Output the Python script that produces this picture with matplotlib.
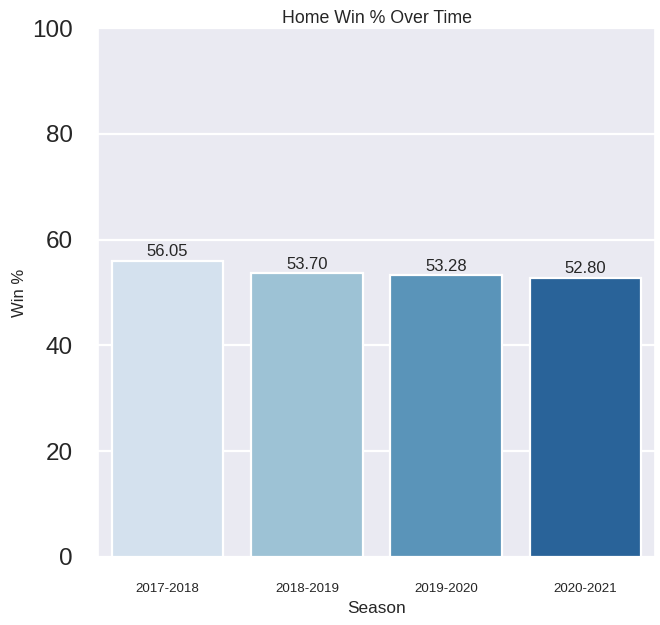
import matplotlib
matplotlib.use("Agg")
import matplotlib.pyplot as plt
import seaborn as sns

# values
seasons = ["2017-2018", "2018-2019", "2019-2020", "2020-2021"]
home_win_pct = [56.05, 53.70, 53.28, 52.80]

sns.set_theme(style="darkgrid")
plt.rcParams['font.family'] = ['Arial', 'Liberation Sans', 'DejaVu Sans']

fig = plt.figure(figsize=(6.6, 6.25), dpi=100)
ax = fig.add_axes([0.1485, 0.109, 0.844, 0.846])

colors = sns.color_palette("Blues", len(seasons))
sns.barplot(x=seasons, y=home_win_pct, hue=seasons, palette=colors,
            legend=False, ax=ax, edgecolor="white", linewidth=1.6, width=0.8)

# value labels above each bar
for i, v in enumerate(home_win_pct):
    ax.annotate(f"{v:.2f}", (i, v), xytext=(0, 1), textcoords="offset points",
                ha="center", va="bottom", fontsize=12, color="#262626")

ax.set_ylim(0, 100)
ax.set_yticks([0, 20, 40, 60, 80, 100])
ax.grid(True, axis="y", color="white", linewidth=1.6)
ax.grid(False, axis="x")
ax.tick_params(axis="y", labelsize=17.5, pad=12, colors="#262626")
ax.tick_params(axis="x", labelsize=9.6, pad=13, colors="#262626")
ax.set_xlabel("Season", fontsize=12.4, color="#262626", labelpad=4)
ax.set_ylabel("Win %", fontsize=12, color="#262626", labelpad=4)
ax.set_title("Home Win % Over Time", fontsize=12.8, color="#262626", pad=4)

plt.savefig("out.png", dpi=100)
plt.close()
